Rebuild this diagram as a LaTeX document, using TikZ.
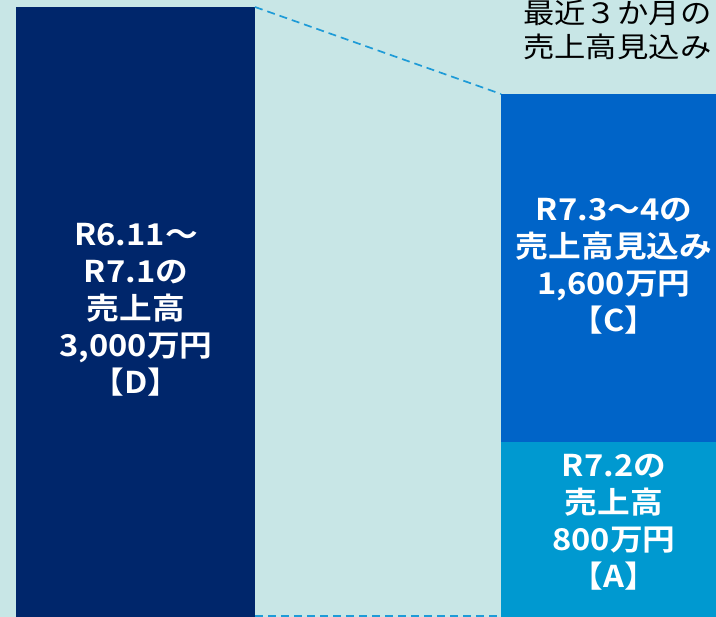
\documentclass[tikz,border=0pt]{standalone}
\usepackage{fontspec}
\newfontfamily\jp[UprightFont=*, BoldFont=* Bold, FakeStretch=1.09]{Noto Sans CJK JP}
\newfontfamily\jpn[FakeStretch=1.12]{Noto Sans CJK JP}
\definecolor{bgteal}{HTML}{C8E6E6}
\definecolor{navy}{HTML}{00266B}
\definecolor{midblue}{HTML}{0064C8}
\definecolor{lightblue}{HTML}{0099D0}
\definecolor{dashblue}{HTML}{1E9BD7}
\tikzset{
  bar/.style={rectangle, inner sep=0pt, outer sep=0pt, draw=none},
  bartext/.style={text=white, align=center, inner sep=0pt, font=\jp\bfseries\fontsize{30}{37}\selectfont},
  guide/.style={draw=dashblue, line width=1.7pt, dash pattern=on 8pt off 5pt},
  note/.style={text=black, align=left, inner sep=0pt, font=\jpn\fontsize{28}{34}\selectfont}
}
\begin{document}
\begin{tikzpicture}[x=1pt,y=-1pt]
\useasboundingbox (0,0) rectangle (716,617);
\clip (0,0) rectangle (716,617);
\fill[bgteal] (0,0) rectangle (716,617);
% bars
\node[bar, fill=navy, minimum width=239pt, minimum height=612pt, anchor=north west] (D) at (16,7) {};
\node[bar, fill=midblue, minimum width=230pt, minimum height=348pt, anchor=north west] (C) at (501,94) {};
\node[bar, fill=lightblue, minimum width=230pt, minimum height=177pt, anchor=north west] (A) at (501,442) {};
% guides
\draw[guide] (D.north east) -- (C.north west);
\draw[guide] ([yshift=3pt]D.south east) -- ([yshift=3pt]A.south west);
% texts
\node[bartext] (Dt) at (136,310) {R6.11～\\R7.1の\\売上高\\3,000万円\\【D】};
\node[bartext] (Ct) at (614,266) {R7.3～4の\\売上高見込み\\1,600万円\\【C】};
\node[bartext] (At) at (614,522) {R7.2の\\売上高\\800万円\\【A】};
\node[note, anchor=west] (N) at (523,30) {最近３か月の\\売上高見込み};
\end{tikzpicture}
\end{document}
